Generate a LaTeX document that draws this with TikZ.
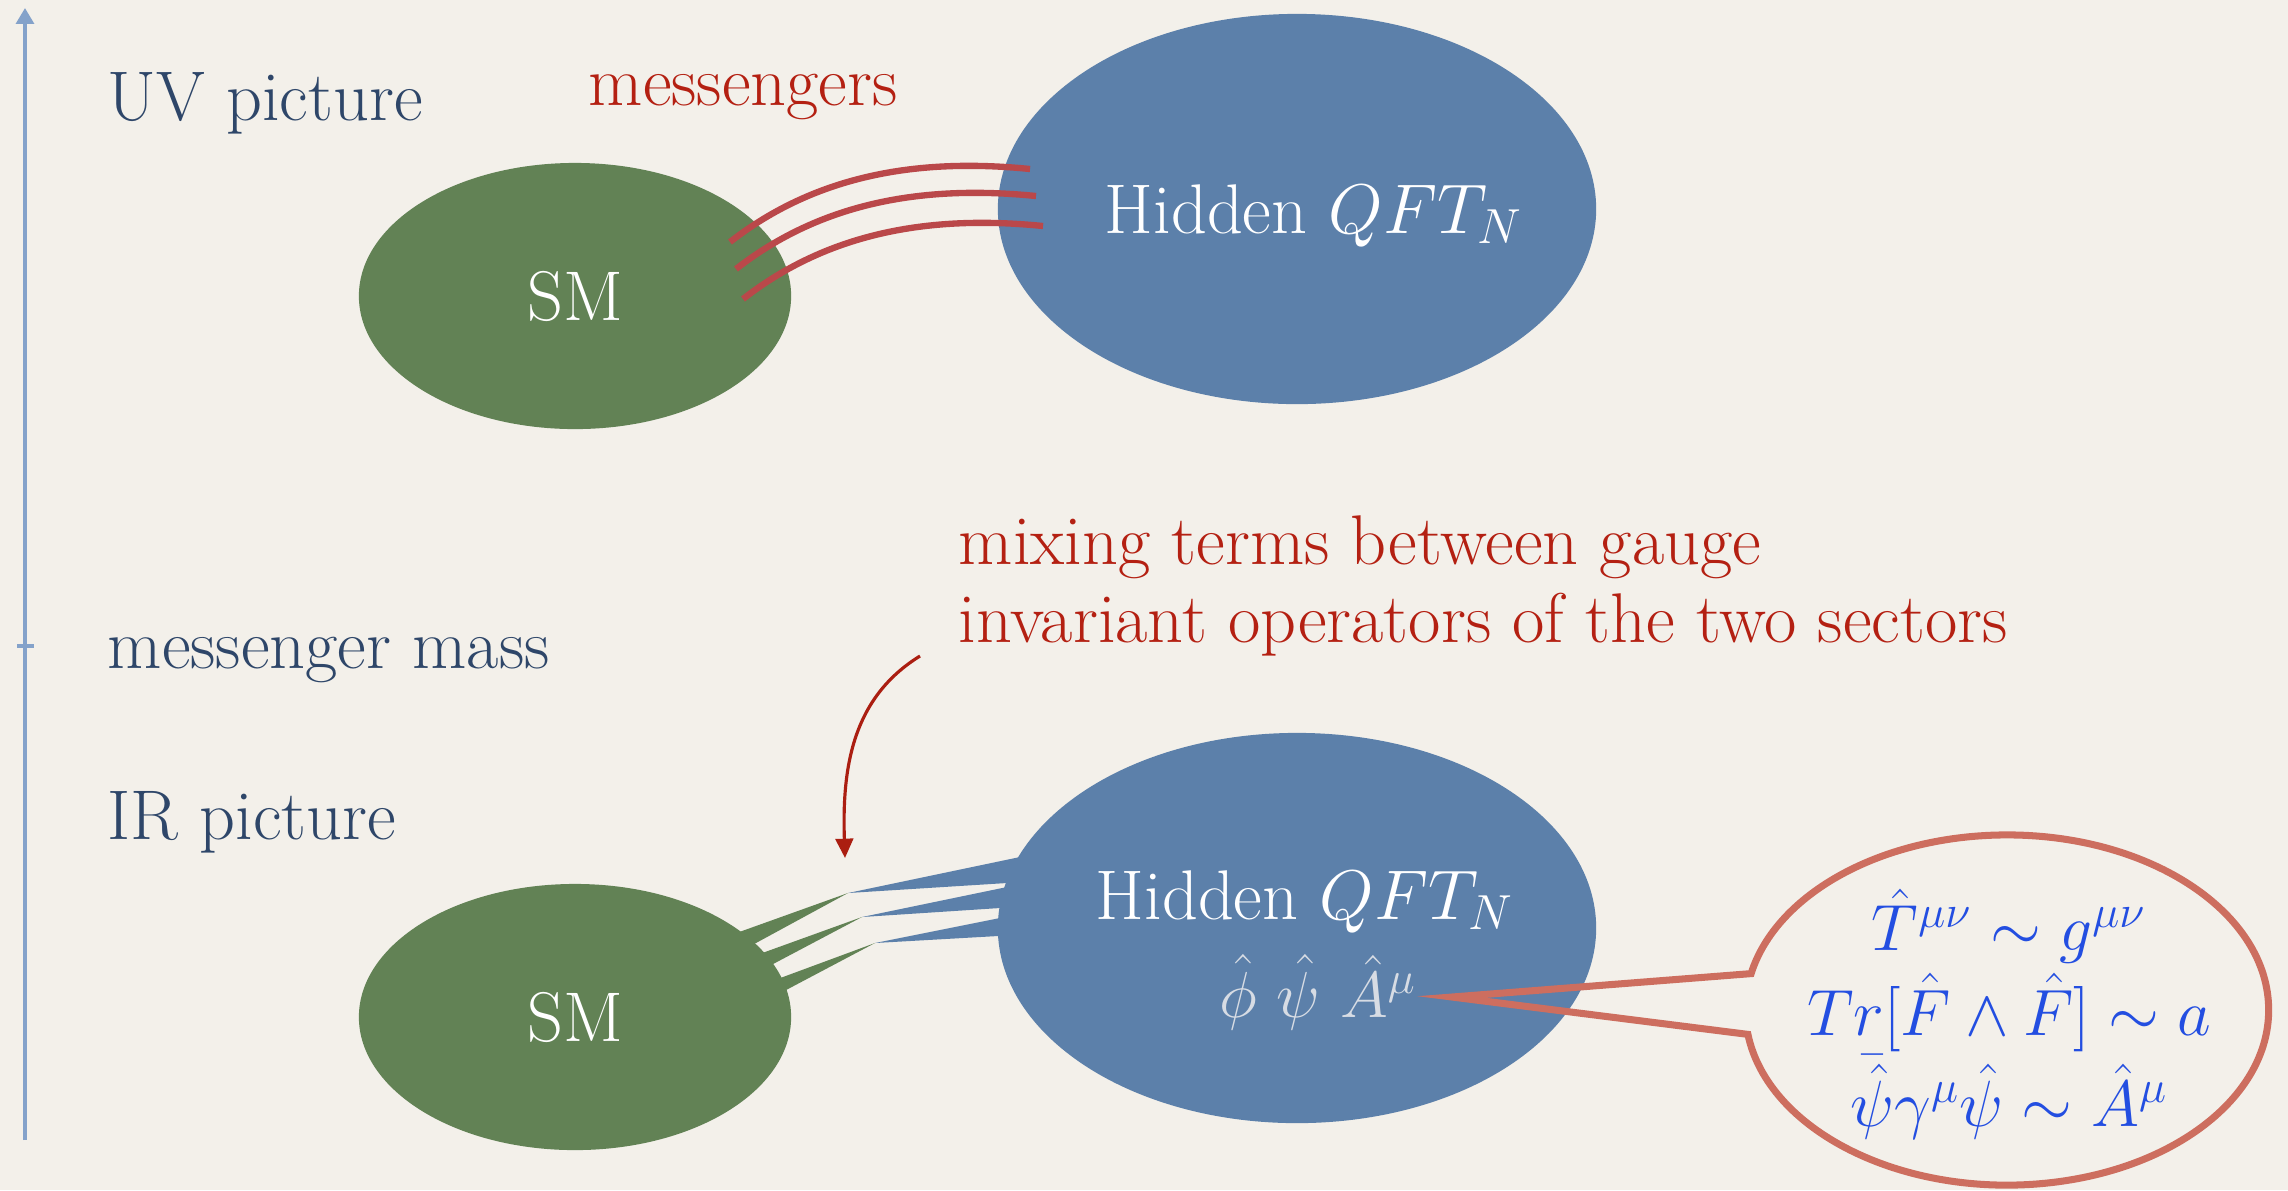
\documentclass[tikz,border=0pt]{standalone}
\usepackage{fix-cm}
\usepackage{fontspec}
\usetikzlibrary{shapes.geometric}
\usetikzlibrary{shapes.callouts}
\usetikzlibrary{arrows.meta}
\usetikzlibrary{calc}
\definecolor{paper}{RGB}{243,240,234}
\definecolor{navytext}{RGB}{46,70,105}
\definecolor{redtext}{RGB}{180,32,18}
\definecolor{smgreen}{RGB}{98,130,85}
\definecolor{qftblue}{RGB}{92,128,170}
\definecolor{msgred}{RGB}{186,72,74}
\definecolor{bubblered}{RGB}{205,110,95}
\definecolor{opblue}{RGB}{35,78,225}
\definecolor{fieldgrey}{RGB}{215,220,228}
\definecolor{axisblue}{RGB}{132,162,202}
\tikzset{
    smnode/.style = {ellipse, fill=smgreen, minimum width=4.32cm, minimum height=2.66cm, inner sep=0pt, text=white, font=\fontsize{20}{22}\selectfont},
    qftnode/.style = {ellipse, fill=qftblue, minimum width=5.98cm, minimum height=3.9cm, inner sep=0pt},
    scalelabel/.style = {text=navytext, anchor=base west, inner sep=0pt, font=\fontsize{20}{22}\selectfont},
    redlabel/.style = {text=redtext, inner sep=0pt, font=\fontsize{20}{22}\selectfont},
    qftlabel/.style = {text=white, anchor=base, inner sep=0pt, font=\fontsize{20}{22}\selectfont},
    fieldlabel/.style = {text=fieldgrey, anchor=base, inner sep=0pt, font=\fontsize{18.5}{22}\selectfont},
    bubble/.style = {ellipse callout, draw=bubblered, line width=2pt, callout pointer arc=20,
        minimum width=5.23cm, minimum height=3.5cm, inner sep=0pt},
    optext/.style = {text=opblue, align=center, inner sep=0pt, font=\fontsize{18.6}{24}\selectfont},
    axisline/.style = {draw=axisblue, line width=1.1pt},
    messenger/.style = {draw=msgred, line width=1.8pt},
    mixarrow/.style = {draw=redtext!95!black, line width=0.9pt, -{Triangle[width=5pt,length=5.5pt]}},
}
\begin{document}
\begin{tikzpicture}[x=0.01cm,y=-0.01cm]
\fill[paper] (0,0) rectangle (2288,1190);
\useasboundingbox (0,0) rectangle (2288,1190);
%
% energy axis
\coordinate (axbot) at (25,1140);
\coordinate (axtop) at (25,8);
\coordinate (axmass) at (25,646);
\draw[axisline,-{Triangle[width=5pt,length=4.5pt]}] (axbot) -- (axtop);
\draw[axisline,line width=1.4pt] ($(axmass)+(-8,0)$) -- ($(axmass)+(9,0)$);
%
\node[scalelabel] (uv) at (107,120) {UV picture};
\node[scalelabel] (mass) at (107,668) {messenger mass};
\node[scalelabel] (ir) at (107,839) {IR picture};
%
% IR: thin wedges meeting between the two sectors
\coordinate (tip1) at (848,893);
\coordinate (tip2) at (862,917);
\coordinate (tip3) at (875,943);
\coordinate (ga1) at (742,931); \coordinate (gb1) at (756,943);
\coordinate (ga2) at (765,952); \coordinate (gb2) at (775,963);
\coordinate (ga3) at (783,977); \coordinate (gb3) at (788,989);
\coordinate (ba1) at (1020,857); \coordinate (bb1) at (1007,883);
\coordinate (ba2) at (1007,887); \coordinate (bb2) at (1000,908);
\coordinate (ba3) at (1000,918); \coordinate (bb3) at (998,936);
\foreach \i in {1,2,3} {
  \fill[smgreen] ($(tip\i)!1.5!(ga\i)$) -- (tip\i) -- ($(tip\i)!1.5!(gb\i)$) -- cycle;
  \fill[qftblue] ($(tip\i)!1.3!(ba\i)$) -- (tip\i) -- ($(tip\i)!1.3!(bb\i)$) -- cycle;
}
%
\node[smnode] (smuv) at (575,296) {SM};
\node[qftnode] (qftuv) at (1297,209) {};
\node[smnode] (smir) at (575,1017) {SM};
\node[qftnode] (qftir) at (1297,928) {};
%
% UV: messenger lines
\foreach \i/\dx/\dy in {1/0/0,2/6/27,3/13/57} {
  \coordinate (ms\i) at (730+\dx,242+\dy);
  \coordinate (me\i) at (1030+\dx,169+\dy);
  \draw[messenger] (ms\i) .. controls +(87,-68) and +(-110,-11) .. (me\i);
}
\node[redlabel,anchor=base west] (msg) at (588,105) {messengers};
%
\node[qftlabel] (hiddenuv) at (1314,233) {Hidden $QFT_N$};
\node[qftlabel] (hiddenir) at (1305,919) {Hidden $QFT_N$};
\node[fieldlabel] (fields) at (1318,1017) {$\hat\phi\ \hat\psi\ \hat A^\mu$};
%
\node[redlabel,anchor=west,align=left] (mixing) at (958,586)
  {mixing terms between gauge\\invariant operators of the two sectors};
\coordinate (mixtail) at (920,656);
\coordinate (mixhead) at (845,858);
\draw[mixarrow] (mixtail) .. controls (852,698) and (842,768) .. (mixhead);
%
\coordinate (bubtip) at (1452,997);
\node[bubble, callout absolute pointer={(bubtip)}] (bub) at (2007,1010) {};
\node[optext] (ops) at (2009,1014)
  {$\hat T^{\mu\nu}\sim g^{\mu\nu}$\\
   $Tr[\hat F\wedge\hat F]\sim a$\\
   $\bar{\hat\psi}\gamma^\mu\hat\psi\sim\hat A^\mu$};
\end{tikzpicture}
\end{document}
